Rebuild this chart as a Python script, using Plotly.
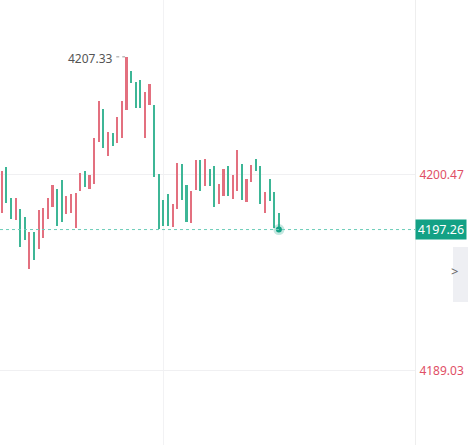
import plotly.graph_objects as go

# ---- data ----
opens = [4198.23, 4200.91, 4199.10, 4197.82, 4198.46, 4197.99, 4194.96, 4197.12, 4196.13, 4196.77,
         4197.88, 4198.57, 4199.62, 4200.15, 4198.17, 4198.23, 4197.35, 4199.51, 4200.67, 4199.62,
         4199.92, 4202.37, 4204.29, 4201.55, 4202.89, 4202.31, 4202.60, 4204.23, 4206.50, 4205.86,
         4205.98, 4202.60, 4204.52, 4204.52, 4200.50, 4198.98, 4199.33, 4197.41, 4198.46, 4201.08,
         4199.86, 4197.64, 4199.57, 4201.32, 4199.80, 4200.79, 4200.97, 4198.75, 4199.22, 4200.97,
         4199.04, 4199.51, 4201.08, 4198.87, 4200.03, 4201.37, 4200.97, 4198.23, 4200.21, 4199.45,
         4198.23]
closes = [4200.67, 4198.81, 4197.88, 4199.10, 4196.24, 4196.65, 4197.12, 4195.48, 4198.40, 4198.52,
          4199.10, 4199.86, 4197.47, 4197.70, 4199.22, 4199.33, 4199.39, 4200.56, 4199.74, 4200.44,
          4202.60, 4204.76, 4202.02, 4202.95, 4202.13, 4203.82, 4204.76, 4207.33, 4205.81, 4204.35,
          4204.35, 4205.28, 4205.75, 4200.32, 4197.29, 4197.47, 4197.47, 4198.75, 4201.14, 4198.98,
          4197.70, 4199.51, 4201.32, 4199.51, 4201.37, 4199.80, 4198.57, 4199.92, 4200.79, 4199.22,
          4200.44, 4201.90, 4198.98, 4200.21, 4201.02, 4200.67, 4198.75, 4199.45, 4198.92, 4197.35,
          4197.26]
tick_values = [4189.03, 4200.47]
tick_labels = ["4189.03", "4200.47"]
last_price = 4197.26
high_price = 4207.33
high_label = "4207.33"

RED = "#e3707f"
GREEN = "#3db696"
TEAL = "#13a185"

idx = list(range(len(opens)))
up_x = [i for i in idx if closes[i] >= opens[i]]
dn_x = [i for i in idx if closes[i] < opens[i]]

fig = go.Figure()
fig.add_trace(go.Bar(
    x=up_x,
    base=[opens[i] for i in up_x],
    y=[closes[i] - opens[i] for i in up_x],
    width=0.46, marker=dict(color=RED, line=dict(width=0)),
    hoverinfo="skip", showlegend=False))
fig.add_trace(go.Bar(
    x=dn_x,
    base=[closes[i] for i in dn_x],
    y=[opens[i] - closes[i] for i in dn_x],
    width=0.46, marker=dict(color=GREEN, line=dict(width=0)),
    hoverinfo="skip", showlegend=False))

last_i = idx[-1]
high_i = closes.index(high_price)

xr = [-0.368, 89.46]
fig.update_layout(
    width=468, height=445,
    margin=dict(l=0, r=0, t=0, b=0),
    paper_bgcolor="white", plot_bgcolor="white",
    barmode="overlay", bargap=0,
    font=dict(family="Noto Sans, sans-serif"),
    xaxis=dict(domain=[0, 415 / 468], range=xr, showticklabels=False,
               tickvals=[35], showgrid=True, gridcolor="#f2f2f4", gridwidth=1,
               zeroline=False, showline=False, fixedrange=True),
    yaxis=dict(range=[4184.697, 4210.645], side="right",
               tickvals=tick_values, ticktext=tick_labels,
               tickfont=dict(color="#df4f66", size=12),
               showgrid=True, gridcolor="#f0f0f2", gridwidth=1,
               zeroline=False, showline=True, linecolor="#eeeeee", linewidth=1,
               ticks="", ticklabelstandoff=1),
)

# last-price dotted line
fig.add_shape(type="line", xref="x", yref="y", x0=xr[0], x1=xr[1],
              y0=last_price, y1=last_price,
              line=dict(color="#6ccdb8", width=1, dash="dot"))

# glow + dot at last price
fig.add_trace(go.Scatter(x=[last_i], y=[last_price], mode="markers",
                         marker=dict(size=11, color="rgba(19,161,133,0.25)"),
                         hoverinfo="skip", showlegend=False))
fig.add_trace(go.Scatter(x=[last_i], y=[last_price], mode="markers",
                         marker=dict(size=6, color=TEAL),
                         hoverinfo="skip", showlegend=False))

# high label with short dotted leader
fig.add_shape(type="line", xref="x", yref="y", x0=high_i - 2.2, x1=high_i - 0.3,
              y0=high_price, y1=high_price,
              line=dict(color="#9a9a9a", width=1, dash="dot"))
fig.add_annotation(x=high_i - 2.5, y=high_price, xref="x", yref="y",
                   text=high_label, showarrow=False, xanchor="right", yanchor="middle",
                   yshift=-2, font=dict(color="#555555", size=12))

# last-price tag
fig.add_annotation(x=415 / 468, y=last_price, xref="paper", yref="y",
                   text=f"{last_price:.2f}", showarrow=False, xanchor="left", yanchor="middle",
                   bgcolor=TEAL, borderpad=2, font=dict(color="white", size=12.5),
                   width=46, height=15, align="center")

# side expand button
fig.add_shape(type="rect", xref="paper", yref="paper",
              x0=453 / 468, x1=1.0, y0=1 - 302 / 445, y1=1 - 247 / 445,
              fillcolor="#eeeff3", line=dict(width=0), layer="above")
fig.add_annotation(x=460 / 468, y=1 - 271 / 445, xref="paper", yref="paper",
                   text=">", showarrow=False, font=dict(color="#666666", size=13))

fig.write_html("out.html")
